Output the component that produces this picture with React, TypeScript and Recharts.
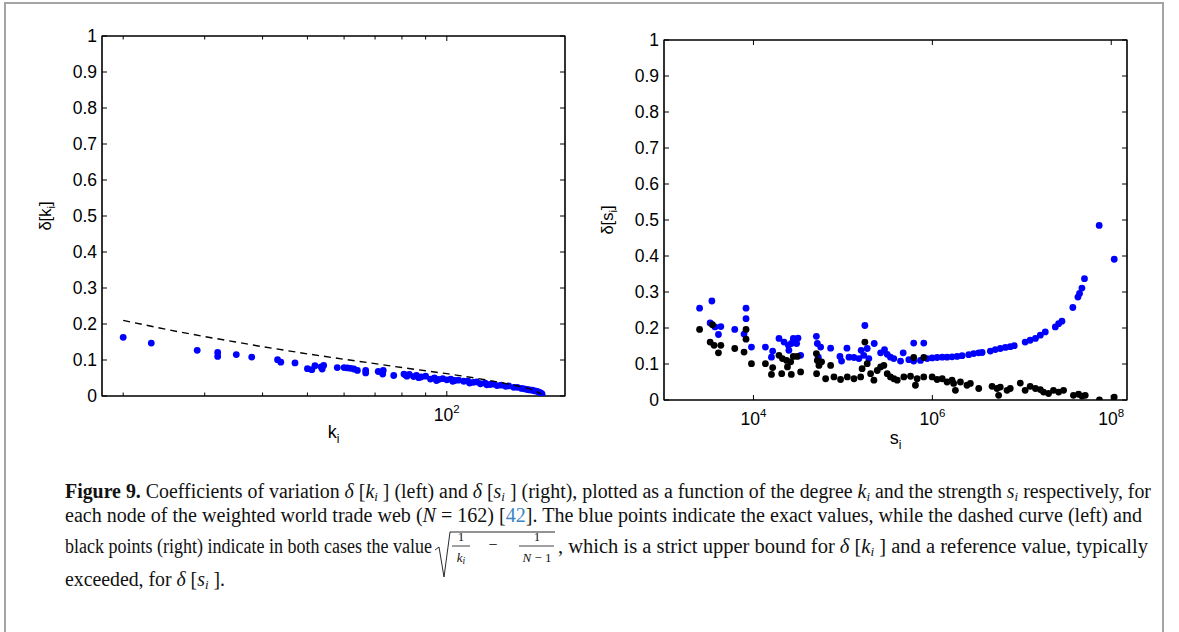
import React from 'react';
import { ScatterChart, Scatter, XAxis, YAxis, ReferenceArea } from 'recharts';

// ---- left panel: delta[k_i] vs degree k_i ----
const degreeK = [
  20, 23, 28.9, 32, 32, 35.1, 37.9, 43.1, 43.8, 47, 50, 51.1, 51.9, 53.5, 54.2, 53.8, 58, 60, 61, 62,
  63, 64.1, 66.8, 66.8, 71.1, 72.7, 72.9, 76.8, 80.8, 81.5, 83, 84.8, 86, 88, 90, 92.2, 94, 96, 98, 100,
  102, 104, 106, 108.8, 111, 114, 116, 118.2, 121, 124, 126, 128.4, 131, 134, 136, 139.5, 142, 145, 147, 149.1,
  151, 153, 155, 156.7, 158, 159, 160, 160.6, 82, 87, 95, 103, 112, 122,
];
const deltaK = [
  0.163, 0.147, 0.127, 0.121, 0.110, 0.115, 0.108, 0.101, 0.094, 0.092, 0.076, 0.073, 0.084, 0.081, 0.085, 0.075, 0.079, 0.079, 0.078, 0.077,
  0.075, 0.071, 0.071, 0.064, 0.068, 0.061, 0.071, 0.057, 0.061, 0.058, 0.060, 0.054, 0.057, 0.053, 0.055, 0.047, 0.050, 0.046, 0.048, 0.045,
  0.047, 0.043, 0.044, 0.041, 0.042, 0.038, 0.039, 0.034, 0.036, 0.032, 0.033, 0.029, 0.030, 0.027, 0.028, 0.024, 0.024, 0.021, 0.020, 0.018,
  0.017, 0.016, 0.014, 0.013, 0.011, 0.009, 0.007, 0.005, 0.055, 0.051, 0.043, 0.041, 0.036, 0.031,
];
// dashed upper bound
const boundK = [20, 25, 30, 35, 40, 50, 60, 70, 80, 90, 100, 110, 120, 130, 140, 150, 155, 160];
const boundDelta = [0.21, 0.184, 0.165, 0.15, 0.137, 0.117, 0.102, 0.09, 0.079, 0.07, 0.062, 0.054, 0.046, 0.038, 0.03, 0.021, 0.015, 0.006];

// ---- right panel: delta[s_i] vs strength s_i ----
const strengthBlue = [
  2.5e3, 3.43e3, 3.28e3, 3.72e3, 4.32e3, 4.06e3, 6.18e3, 7.85e3, 8.26e3, 8.26e3, 9.5e3, 1.36e4, 1.64e4, 1.59e4, 1.93e4,
  2.2e4, 2.46e4, 2.65e4, 2.49e4, 2.79e4, 3.15e4, 3.04e4, 3.37e4, 5.05e4, 5.18e4, 5.64e4, 5.31e4, 7.29e4, 9.27e4, 9.66e4,
  1.11e5, 1.17e5, 1.33e5, 1.51e5, 1.76e5, 1.6e5, 1.87e5, 1.71e5, 1.95e5, 2.24e5, 2.64e5, 2.92e5, 3.13e5, 3.4e5, 3.71e5,
  4.72e5, 4.41e5, 5.46e5, 6.19e5, 6.19e5, 8.02e5, 7.36e5, 8.75e5, 9.95e5, 1.13e6, 1.29e6, 1.46e6, 1.66e6, 1.89e6, 2.15e6,
  2.55e6, 2.9e6, 3.3e6, 3.6e6, 4.45e6, 5.06e6, 5.75e6, 6.55e6, 7.43e6, 8.24e6, 1.09e7, 1.24e7, 1.42e7, 1.61e7, 1.83e7,
  2.37e7, 2.58e7, 2.81e7, 3.72e7, 4.24e7, 4.42e7, 4.7e7, 5.02e7, 7.33e7, 1.08e8,
];
const deltaSBlue = [
  0.255, 0.275, 0.214, 0.203, 0.204, 0.182, 0.196, 0.183, 0.255, 0.226, 0.147, 0.147, 0.136, 0.119, 0.171,
  0.161, 0.152, 0.157, 0.138, 0.171, 0.172, 0.157, 0.124, 0.177, 0.157, 0.147, 0.119, 0.144, 0.121, 0.108,
  0.144, 0.119, 0.118, 0.115, 0.207, 0.138, 0.143, 0.124, 0.115, 0.157, 0.131, 0.14, 0.127, 0.119, 0.115,
  0.131, 0.108, 0.112, 0.108, 0.158, 0.158, 0.11, 0.115, 0.117, 0.118, 0.119, 0.119, 0.12, 0.121, 0.123,
  0.126, 0.129, 0.131, 0.132, 0.136, 0.14, 0.143, 0.146, 0.148, 0.151, 0.161, 0.166, 0.171, 0.18, 0.189,
  0.203, 0.212, 0.219, 0.257, 0.286, 0.296, 0.311, 0.337, 0.485, 0.391,
];
const strengthBlack = [
  2.5e3, 3.28e3, 3.48e3, 3.63e3, 4.32e3, 4.06e3, 6.18e3, 7.85e3, 8.26e3, 8.26e3, 9.5e3, 1.36e4, 1.64e4, 1.59e4, 1.93e4,
  2.11e4, 2.35e4, 2.61e4, 2.4e4, 2.65e4, 2.79e4, 3.1e4, 2.07e4, 3.37e4, 5.05e4, 5.18e4, 5.4e4, 5.78e4, 5.08e4, 7.29e4,
  6.41e4, 7.94e4, 9.42e4, 1.12e5, 1.33e5, 1.58e5, 1.76e5, 1.64e5, 1.87e5, 2.04e5, 2.22e5, 2.42e5, 2.64e5, 2.87e5, 3.13e5,
  3.4e5, 3.71e5, 4.05e5, 4.8e5, 5.7e5, 6.76e5, 8.02e5, 6.47e5, 6.19e5, 8.02e5, 9.95e5, 1.13e6, 1.29e6, 1.46e6, 1.73e6,
  1.81e6, 1.66e6, 2.06e6, 2.44e6, 2.66e6, 3.3e6, 4.65e6, 5.28e6, 5.75e6, 6.84e6, 7.43e6, 5.51e6, 9.62e6, 1.09e7, 1.24e7,
  1.42e7, 1.61e7, 1.75e7, 1.99e7, 2.26e7, 2.58e7, 2.93e7, 3.78e7, 4.31e7, 4.7e7, 5.12e7, 7.38e7, 1.08e8,
];
const deltaSBlack = [
  0.196, 0.161, 0.209, 0.152, 0.152, 0.131, 0.143, 0.133, 0.196, 0.169, 0.101, 0.101, 0.09, 0.071, 0.124,
  0.115, 0.11, 0.106, 0.092, 0.071, 0.121, 0.121, 0.073, 0.078, 0.129, 0.11, 0.096, 0.106, 0.073, 0.096,
  0.059, 0.064, 0.057, 0.064, 0.059, 0.064, 0.161, 0.087, 0.101, 0.073, 0.055, 0.082, 0.092, 0.096, 0.073,
  0.064, 0.059, 0.055, 0.064, 0.066, 0.059, 0.064, 0.041, 0.118, 0.118, 0.064, 0.057, 0.059, 0.05, 0.046,
  0.027, 0.055, 0.05, 0.041, 0.046, 0.032, 0.038, 0.032, 0.036, 0.027, 0.032, 0.013, 0.047, 0.027, 0.038,
  0.032, 0.029, 0.022, 0.018, 0.027, 0.022, 0.027, 0.013, 0.016, 0.011, 0.013, 0.0, 0.008,
];

// ---- ticks ----
const yTicks = [0, 0.1, 0.2, 0.3, 0.4, 0.5, 0.6, 0.7, 0.8, 0.9, 1];
const yTickLabels = ['0', '0.1', '0.2', '0.3', '0.4', '0.5', '0.6', '0.7', '0.8', '0.9', '1'];
const kTicks = [20, 30, 40, 50, 60, 70, 80, 90, 100];
const kMajor = [100];
const kMajorExp = ['2'];
const sTicks = [1e4, 1e6, 1e8];
const sMajor = [1e4, 1e6, 1e8];
const sMajorExp = ['4', '6', '8'];

const kPoints = degreeK.map((x, i) => ({ x, y: deltaK[i] }));
const boundPoints = boundK.map((x, i) => ({ x, y: boundDelta[i] }));
const sBluePoints = strengthBlue.map((x, i) => ({ x, y: deltaSBlue[i] }));
const sBlackPoints = strengthBlack.map((x, i) => ({ x, y: deltaSBlack[i] }));

const SANS = '"Liberation Sans", Arial, Helvetica, sans-serif';
const SERIF = '"Liberation Serif", "Times New Roman", serif';
const TICK_FS = 17.5;

const makeDot = (color: string) => (p: any) => <circle cx={p.cx} cy={p.cy} r={3.4} fill={color} />;

// ticks point inward (MATLAB style), labels drawn outside
const bottomTick = (majors: number[], exps: string[]) => (p: any) => {
  const i = majors.indexOf(p.payload.value);
  return (
    <g>
      <line x1={p.x} y1={p.y} x2={p.x} y2={p.y - (i >= 0 ? 5 : 3.5)} stroke="#000" />
      {i >= 0 && (
        <text x={p.x} y={p.y + 25} textAnchor="middle" fontFamily={SANS} fontSize={TICK_FS} fill="#000">
          10<tspan dy={-8} fontSize={11.5}>{exps[i]}</tspan>
        </text>
      )}
    </g>
  );
};
const topTick = (majors: number[]) => (p: any) => (
  <line x1={p.x} y1={p.y} x2={p.x} y2={p.y + (majors.includes(p.payload.value) ? 5 : 3.5)} stroke="#000" />
);
const leftTick = (p: any) => (
  <g>
    <line x1={p.x} y1={p.y} x2={p.x + 5} y2={p.y} stroke="#000" />
    <text x={p.x - 5} y={p.y} dy="0.36em" textAnchor="end" fontFamily={SANS} fontSize={TICK_FS} fill="#000">
      {yTickLabels[yTicks.indexOf(p.payload.value)]}
    </text>
  </g>
);
const rightTick = (p: any) => <line x1={p.x} y1={p.y} x2={p.x - 5} y2={p.y} stroke="#000" />;

const xLabel = (v: string, dyBase: number) => (p: any) => {
  const vb = p.viewBox;
  return (
    <text x={vb.x + vb.width / 2} y={vb.y + dyBase} textAnchor="middle" fontFamily={SANS} fontSize={18} fill="#000">
      {v}<tspan dy={5} fontSize={12}>i</tspan>
    </text>
  );
};
const yLabel = (v: string) => (p: any) => {
  const vb = p.viewBox;
  const cx = vb.x + vb.width - 51;
  const cy = vb.y + vb.height / 2;
  return (
    <text transform={`translate(${cx},${cy}) rotate(-90)`} textAnchor="middle" fontFamily={SANS} fontSize={16.5} fill="#000">
      δ[{v}<tspan dy={4} fontSize={11.5}>i</tspan><tspan dy={-4}>]</tspan>
    </text>
  );
};

function Panel(props: {
  width: number; height: number; margin: any; yWidth: number; domain: [number, number];
  ticks: number[]; majors: number[]; exps: string[]; varName: string; labelDy: number; children: React.ReactNode;
}) {
  const { width, height, margin, yWidth, domain, ticks, majors, exps, varName, labelDy, children } = props;
  return (
    <ScatterChart width={width} height={height} margin={margin}>
      <XAxis xAxisId="b" dataKey="x" type="number" scale="log" domain={domain} allowDataOverflow ticks={ticks}
        interval={0} height={64} tickSize={0} tickMargin={0} tickLine={false} stroke="#000"
        tick={bottomTick(majors, exps)} label={{ content: xLabel(varName, labelDy) }} />
      <XAxis xAxisId="t" orientation="top" dataKey="x" type="number" scale="log" domain={domain} allowDataOverflow
        ticks={ticks} interval={0} height={1} tickSize={0} tickMargin={0} tickLine={false} stroke="#000"
        tick={topTick(majors)} />
      <YAxis yAxisId="l" dataKey="y" type="number" domain={[0, 1]} allowDataOverflow ticks={yTicks} interval={0}
        width={yWidth} tickSize={0} tickMargin={0} tickLine={false} stroke="#000" tick={leftTick}
        label={{ content: yLabel(varName) }} />
      <YAxis yAxisId="r" orientation="right" dataKey="y" type="number" domain={[0, 1]} allowDataOverflow ticks={yTicks}
        interval={0} width={1} tickSize={0} tickMargin={0} tickLine={false} stroke="#000" tick={rightTick} />
      {/* axes box */}
      <ReferenceArea xAxisId="b" yAxisId="l" x1={domain[0]} x2={domain[1]} y1={0} y2={1}
        fill="none" fillOpacity={0} stroke="#000" strokeWidth={1.2} ifOverflow="visible" />
      {children}
    </ScatterChart>
  );
}

const Var = ({ v, after }: { v: string; after: string }) => (
  <>
    <tspan fontStyle="italic">{v}</tspan>
    <tspan fontStyle="italic" fontSize={13} dy={3}>i</tspan>
    <tspan dy={-3}>{after}</tspan>
  </>
);

function Caption() {
  const B = 113; // baseline of line 3
  return (
    <svg width={1179} height={192} style={{ position: 'absolute', left: 0, top: 440 }} fontFamily={SERIF} fontSize={20} fill="#111">
      <text x={65} y={58} textLength={1086} lengthAdjust="spacingAndGlyphs">
        <tspan fontWeight="bold">Figure 9.</tspan>
        <tspan>{' Coefficients of variation '}</tspan>
        <tspan fontStyle="italic">δ</tspan>
        <tspan>{' ['}</tspan>
        <Var v="k" after={' ] (left) and '} />
        <tspan fontStyle="italic">δ</tspan>
        <tspan>{' ['}</tspan>
        <Var v="s" after={' ] (right), plotted as a function of the degree '} />
        <Var v="k" after={' and the strength '} />
        <Var v="s" after={' respectively, for'} />
      </text>
      <text x={65} y={82} textLength={1077} lengthAdjust="spacingAndGlyphs">
        <tspan>{'each node of the weighted world trade web ('}</tspan>
        <tspan fontStyle="italic">N</tspan>
        <tspan>{' = 162) ['}</tspan>
        <tspan fill="#3a86c4">42</tspan>
        <tspan>{']. The blue points indicate the exact values, while the dashed curve (left) and'}</tspan>
      </text>
      <text x={65} y={B} textLength={367} lengthAdjust="spacingAndGlyphs">
        black points (right) indicate in both cases the value
      </text>
      {/* square-root formula */}
      <path d={`M 435 ${B - 3} L 439 ${B - 6} L 444 ${B + 24} L 450 ${B - 21} L 555 ${B - 21}`} fill="none" stroke="#111" strokeWidth={0.9} />
      <g fontSize={13}>
        <text x={461} y={B - 12} textAnchor="middle">1</text>
        <line x1={452} x2={470} y1={B - 7} y2={B - 7} stroke="#111" strokeWidth={0.8} />
        <text x={461} y={B + 9} textAnchor="middle">
          <tspan fontStyle="italic">k</tspan><tspan fontStyle="italic" fontSize={9.5} dy={2}>i</tspan>
        </text>
        <text x={493} y={B - 3} textAnchor="middle" fontSize={16}>−</text>
        <text x={537} y={B - 12} textAnchor="middle">1</text>
        <line x1={519} x2={554} y1={B - 7} y2={B - 7} stroke="#111" strokeWidth={0.8} />
        <text x={537} y={B + 9} textAnchor="middle">
          <tspan fontStyle="italic">N</tspan><tspan>{' − 1'}</tspan>
        </text>
      </g>
      <text x={558} y={B} textLength={590} lengthAdjust="spacingAndGlyphs">
        <tspan>{', which is a strict upper bound for '}</tspan>
        <tspan fontStyle="italic">δ</tspan>
        <tspan>{' ['}</tspan>
        <Var v="k" after={' ] and a reference value, typically'} />
      </text>
      <text x={65} y={146} textLength={160} lengthAdjust="spacingAndGlyphs">
        <tspan>{'exceeded, for '}</tspan>
        <tspan fontStyle="italic">δ</tspan>
        <tspan>{' ['}</tspan>
        <Var v="s" after={' ].'} />
      </text>
    </svg>
  );
}

export default function App() {
  return (
    <div style={{ position: 'absolute', left: 0, top: 0, width: 1179, height: 632, background: '#fff', overflow: 'hidden' }}>
      <div style={{ position: 'absolute', left: 4, top: 2, width: 1156, height: 700, borderLeft: '2px solid #a4a4a4', borderTop: '2px solid #a4a4a4', borderRight: '2px solid #a4a4a4' }} />
      <div style={{ position: 'absolute', left: 0, top: 0 }}>
        <Panel width={600} height={460} margin={{ top: 35, right: 34, bottom: 0, left: 0 }} yWidth={102}
          domain={[18, 180]} ticks={kTicks} majors={kMajor} exps={kMajorExp} varName="k" labelDy={42}>
          <Scatter xAxisId="b" yAxisId="l" data={kPoints} fill="#0000ff" shape={makeDot('#0000ff')} isAnimationActive={false} />
          <Scatter xAxisId="b" yAxisId="l" data={boundPoints} fill="#000"
            line={{ stroke: '#000', strokeWidth: 1.4, strokeDasharray: '7 5' }} shape={() => <g />} isAnimationActive={false} />
        </Panel>
      </div>
      <div style={{ position: 'absolute', left: 580, top: 0 }}>
        <Panel width={599} height={464} margin={{ top: 39, right: 51, bottom: 0, left: 0 }} yWidth={84}
          domain={[1e3, 1.5e8]} ticks={sTicks} majors={sMajor} exps={sMajorExp} varName="s" labelDy={44}>
          <Scatter xAxisId="b" yAxisId="l" data={sBluePoints} fill="#0000ff" shape={makeDot('#0000ff')} isAnimationActive={false} />
          <Scatter xAxisId="b" yAxisId="l" data={sBlackPoints} fill="#000" shape={makeDot('#000')} isAnimationActive={false} />
        </Panel>
      </div>
      <Caption />
    </div>
  );
}
